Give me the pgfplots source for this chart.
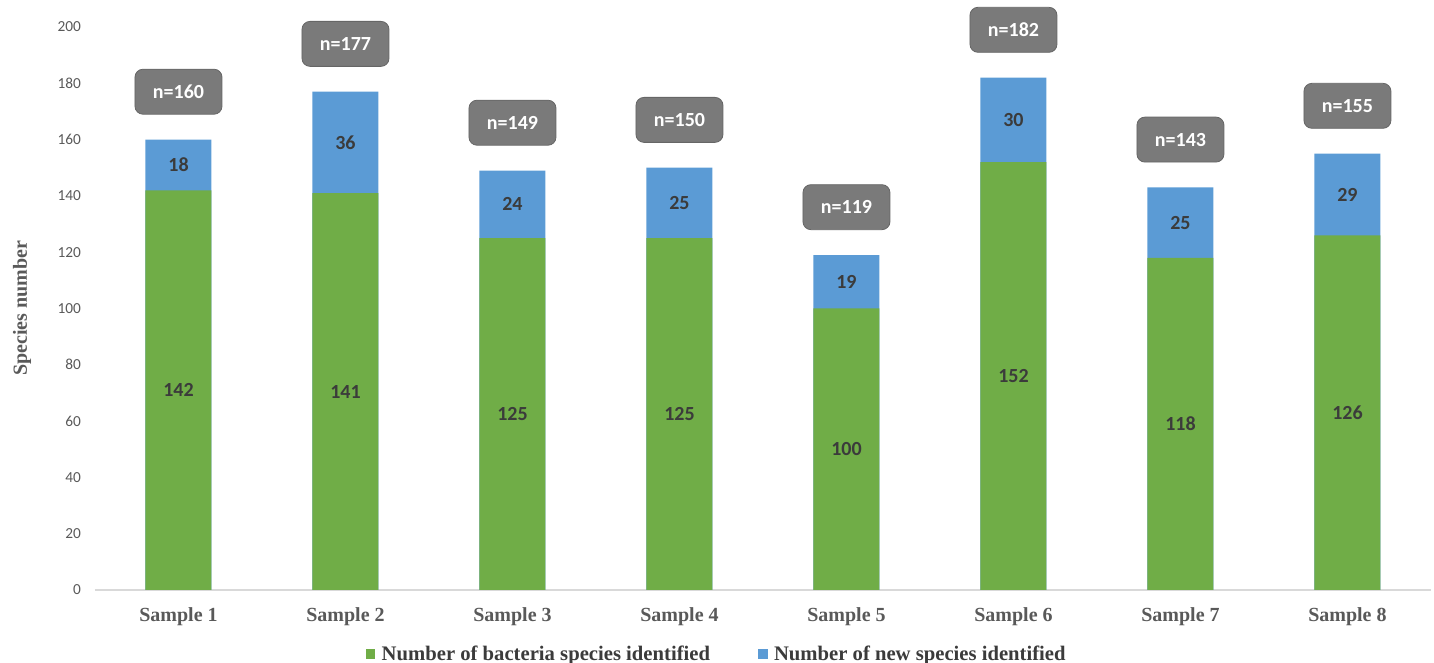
\documentclass[border=0pt]{standalone}
\usepackage{pgfplots}
\usepackage{pgfplotstable}
\pgfplotsset{compat=1.18}
\usepackage{fontspec}
\setmainfont{Liberation Serif}
\newfontfamily\carl{Carlito}
\definecolor{cgreen}{HTML}{70AD47}
\definecolor{cblue}{HTML}{5B9BD5}
\definecolor{boxgray}{HTML}{7A7A7A}
\definecolor{boxedge}{HTML}{666666}
\definecolor{txtgray}{HTML}{595959}
\definecolor{lblgray}{HTML}{3B3B3B}
\definecolor{axgray}{HTML}{D9D9D9}
\pgfplotstableread{
x g n t
0 142 18 160
1 141 36 177
2 125 24 149
3 125 25 150
4 100 19 119
5 152 30 182
6 118 25 143
7 126 29 155
}\data
\begin{document}
\begin{tikzpicture}
\path[use as bounding box] (-71.25pt,-54.75pt) rectangle (1004.25pt,442.5pt);
\begin{axis}[
  scale only axis,
  width=1002pt, height=422.25pt,
  at={(0,0)}, anchor=south west,
  xmin=-0.5, xmax=7.5, ymin=0, ymax=200,
  clip=false,
  axis x line*=bottom, axis y line*=left,
  x axis line style={draw=axgray, line width=0.8pt, -},
  y axis line style={draw=none},
  major tick length=0pt,
  xtick={0,...,7},
  xticklabels={Sample 1,Sample 2,Sample 3,Sample 4,Sample 5,Sample 6,Sample 7,Sample 8},
  xticklabel style={font=\fontsize{15}{17}\selectfont\bfseries, text=txtgray, yshift=-9.5pt},
  ytick={0,20,...,200},
  /pgf/number format/assume math mode=true,
  yticklabel style={font=\carl\fontsize{11.5}{13}\selectfont, text=txtgray, xshift=-7pt},
  ylabel={Species number},
  every axis y label/.style={at={(axis description cs:-0.0546,0.5)}, rotate=90, anchor=center, font=\fontsize{15}{17}\selectfont\bfseries, text=txtgray},
  legend style={at={(axis description cs:0.4656,-0.1137)}, anchor=center, draw=none, fill=none,
    legend columns=2, font=\fontsize{15.5}{17}\selectfont\bfseries, text=lblgray,
    /tikz/every even column/.append style={column sep=34pt}, inner sep=0pt},
  legend image code/.code={\fill[#1] (0pt,-3.6pt) rectangle (7.2pt,3.6pt);\path[draw=none,fill=none] (0pt,0pt) rectangle (10pt,0.1pt);},
]
\addplot[ybar, bar width=49.5pt, bar shift=0pt, fill=cblue, draw=none, forget plot] table[x=x, y=t] {\data};
\addplot[ybar, bar width=49.5pt, bar shift=0pt, fill=cgreen, draw=none, forget plot] table[x=x, y=g] {\data};
\addplot[draw=none, mark=none, forget plot, nodes near coords, point meta=explicit symbolic,
  every node near coord/.append style={anchor=center, font=\carl\fontsize{15}{17}\selectfont\bfseries, text=lblgray}]
  table[x=x, y expr=\thisrow{g}/2, meta=g] {\data};
\addplot[draw=none, mark=none, forget plot, nodes near coords, point meta=explicit symbolic,
  every node near coord/.append style={anchor=center, font=\carl\fontsize{15}{17}\selectfont\bfseries, text=lblgray}]
  table[x=x, y expr=\thisrow{g}+\thisrow{n}/2, meta=n] {\data};
\addplot[draw=none, mark=none, forget plot, nodes near coords={n=\pgfplotspointmeta}, point meta=explicit symbolic,
  every node near coord/.append style={anchor=center, font=\carl\fontsize{15}{17}\selectfont\bfseries, text=white,
    fill=boxgray, draw=boxedge, line width=0.6pt, rounded corners=6pt, minimum width=65.25pt, minimum height=33.75pt}]
  table[x=x, y expr=\thisrow{t}+17, meta=t] {\data};
\addlegendimage{fill=cgreen, draw=none}
\addlegendentry{Number of bacteria species identified}
\addlegendimage{fill=cblue, draw=none}
\addlegendentry{Number of new species identified}
\end{axis}
\end{tikzpicture}
\end{document}
